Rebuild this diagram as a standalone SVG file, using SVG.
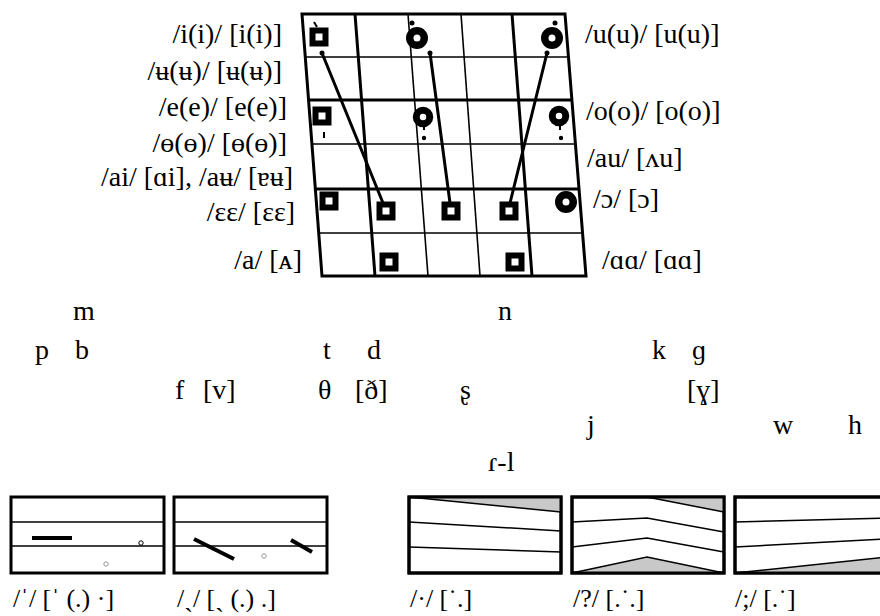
<svg xmlns="http://www.w3.org/2000/svg" width="880" height="616" viewBox="0 0 880 616">
<style>
.t{font-family:"Liberation Serif","DejaVu Serif",serif;fill:#000}
.lb{font-size:28px}
.cs{font-size:28px}
.bt{font-size:26px}
.thick{stroke:#000;stroke-width:3;fill:none}
.thin{stroke:#000;stroke-width:1.6;fill:none}
.conn{stroke:#000;stroke-width:3;stroke-linecap:round;fill:none}
.box{stroke:#000;stroke-width:3;fill:#fff}
.bl{stroke:#000;stroke-width:1.5;fill:none}
.grey{fill:#c8c8c8;stroke:none}
</style>
<defs>
<rect id="sq" x="-6.5" y="-6.5" width="13" height="13" fill="#fff" stroke="#000" stroke-width="6"/>
<circle id="ring" r="7.25" fill="#fff" stroke="#000" stroke-width="7.5"/>
<circle id="ring2" r="6.75" fill="#fff" stroke="#000" stroke-width="7"/>
</defs>
<rect width="880" height="616" fill="#fff"/>

<g id="vowel-chart">
<line class="thin" x1="305.3" y1="57" x2="568.5" y2="57"/>
<line class="thick" x1="308.6" y1="100" x2="571.9" y2="100"/>
<line class="thin" x1="312" y1="144" x2="575.5" y2="144"/>
<line class="thick" x1="315.4" y1="189" x2="579.1" y2="189"/>
<line class="thin" x1="318.7" y1="233" x2="582.6" y2="233"/>
<line class="thick" x1="355" y1="14" x2="375" y2="276"/>
<line class="thin" x1="408" y1="14" x2="428" y2="276"/>
<line class="thin" x1="461" y1="14" x2="480" y2="276"/>
<line class="thick" x1="512" y1="14" x2="532" y2="276"/>
<polygon class="thick" points="302,14 565,14 586,276 322,276"/>
</g>

<g id="connectors">
<line class="conn" x1="322" y1="53" x2="383" y2="203"/>
<line class="conn" x1="430" y1="53" x2="450" y2="203"/>
<line class="conn" x1="547" y1="53" x2="510" y2="203"/>
<circle cx="322" cy="53" r="2.5"/>
<circle cx="430" cy="53" r="2.5"/>
<circle cx="547" cy="53" r="2.5"/>
</g>

<g id="v-i"><use href="#sq" x="319" y="37"/><line x1="314" y1="22" x2="317" y2="27" stroke="#000" stroke-width="2"/></g>
<g id="v-e"><use href="#sq" x="322" y="116"/><line x1="324" y1="132" x2="324" y2="138" stroke="#000" stroke-width="2"/></g>
<g id="v-u-mid"><use href="#ring" x="417" y="38"/><circle cx="412" cy="23" r="2.5"/></g>
<g id="v-u"><use href="#ring" x="552" y="38"/><circle cx="555" cy="23" r="2.5"/></g>
<g id="v-o-mid"><use href="#ring2" x="423" y="117"/><line x1="424" y1="126" x2="424" y2="130" stroke="#000" stroke-width="2"/><circle cx="424" cy="138" r="2.2"/></g>
<g id="v-o"><use href="#ring2" x="559" y="116"/><line x1="560" y1="125" x2="560" y2="130" stroke="#000" stroke-width="2"/><circle cx="561" cy="138" r="2.2"/></g>
<g id="v-ee"><use href="#sq" x="329" y="201"/></g>
<g id="v-ai1"><use href="#sq" x="386" y="211"/></g>
<g id="v-ai2"><use href="#sq" x="451" y="211"/></g>
<g id="v-au"><use href="#sq" x="509" y="211"/></g>
<g id="v-oo"><use href="#ring" x="566" y="202"/></g>
<g id="v-a"><use href="#sq" x="389" y="262"/></g>
<g id="v-aa"><use href="#sq" x="515" y="262"/></g>

<g id="labels-left" class="t lb" text-anchor="end">
<text x="282" y="43">/i(i)/ [i(i)]</text>
<text x="282" y="80">/ʉ(ʉ)/ [ʉ(ʉ)]</text>
<text x="287" y="116">/e(e)/ [e(e)]</text>
<text x="287" y="152">/ɵ(ɵ)/ [ɵ(ɵ)]</text>
<text x="293" y="186">/ai/ [ɑi], /aʉ/ [ɐʉ]</text>
<text x="295" y="221">/ɛɛ/ [ɛɛ]</text>
<text x="302" y="269">/a/ [ᴀ]</text>
</g>
<g id="labels-right" class="t lb">
<text x="585" y="43">/u(u)/ [u(u)]</text>
<text x="586" y="120">/o(o)/ [o(o)]</text>
<text x="587" y="167">/au/ [ʌu]</text>
<text x="593" y="208">/ɔ/ [ɔ]</text>
<text x="602" y="269">/ɑɑ/ [ɑɑ]</text>
</g>

<g id="consonants" class="t cs">
<text x="73" y="320">m</text>
<text x="498" y="320">n</text>
<text x="35" y="359">p</text>
<text x="75" y="359">b</text>
<text x="323" y="359">t</text>
<text x="367" y="359">d</text>
<text x="652" y="359">k</text>
<text x="692" y="359">ɡ</text>
<text x="175" y="399">f</text>
<text x="203" y="399">[v]</text>
<text x="318" y="399">θ</text>
<text x="355" y="399">[ð]</text>
<text x="460" y="399">ʂ</text>
<text x="687" y="399">[ɣ]</text>
<text x="587" y="434">j</text>
<text x="773" y="434">w</text>
<text x="848" y="434">h</text>
<text x="488" y="471">ɾ-l</text>
</g>

<g id="pitch-1">
<rect class="box" x="11" y="497" width="153" height="76"/>
<line class="bl" x1="11" y1="522" x2="164" y2="522"/>
<line class="bl" x1="11" y1="546" x2="164" y2="546"/>
<line x1="32" y1="538" x2="72" y2="538" stroke="#000" stroke-width="4"/>
<circle cx="141" cy="543" r="2.2" fill="none" stroke="#000" stroke-width="1"/>
<circle cx="106" cy="564" r="2.2" fill="none" stroke="#999" stroke-width="1"/>
<text class="t bt" x="13" y="607">/ˈ/ [ˈ (.) ·]</text>
</g>
<g id="pitch-2">
<rect class="box" x="174" y="497" width="153" height="76"/>
<line class="bl" x1="174" y1="522" x2="327" y2="522"/>
<line class="bl" x1="174" y1="546" x2="327" y2="546"/>
<line x1="194" y1="539" x2="234" y2="559" stroke="#000" stroke-width="4"/>
<line x1="291" y1="540" x2="312" y2="552" stroke="#000" stroke-width="4"/>
<circle cx="264" cy="556" r="2.2" fill="none" stroke="#999" stroke-width="1"/>
<text class="t bt" x="177" y="607">/ˎ/ [ˎ (.) .]</text>
</g>
<g id="pitch-3">
<rect class="box" x="409" y="497" width="152" height="76"/>
<polygon class="grey" points="409,497 561,497 561,512"/>
<line class="bl" x1="409" y1="497" x2="561" y2="512"/>
<line class="bl" x1="409" y1="522" x2="561" y2="531"/>
<line class="bl" x1="409" y1="547" x2="561" y2="552"/>
<rect x="409" y="497" width="152" height="76" fill="none" stroke="#000" stroke-width="3"/>
<text class="t bt" x="410" y="607">/·/ [˙.]</text>
</g>
<g id="pitch-4">
<rect class="box" x="572" y="497" width="152" height="76"/>
<polygon class="grey" points="647,497 724,497 724,512"/>
<polygon class="grey" points="572,573 647,557 724,573"/>
<polyline class="bl" points="647,497 724,512"/>
<polyline class="bl" points="572,522 647,518 724,532"/>
<polyline class="bl" points="572,547 647,538 724,552"/>
<polyline class="bl" points="572,573 647,557 724,573"/>
<rect x="572" y="497" width="152" height="76" fill="none" stroke="#000" stroke-width="3"/>
<text class="t bt" x="573" y="607">/?/ [.˙.]</text>
</g>
<g id="pitch-5">
<rect class="box" x="735" y="497" width="152" height="76"/>
<polygon class="grey" points="735,573 887,557 887,573"/>
<line class="bl" x1="735" y1="522" x2="887" y2="518"/>
<line class="bl" x1="735" y1="547" x2="887" y2="539"/>
<line class="bl" x1="735" y1="573" x2="887" y2="557"/>
<rect x="735" y="497" width="152" height="76" fill="none" stroke="#000" stroke-width="3"/>
<text class="t bt" x="735" y="607">/;/ [.˙]</text>
</g>
</svg>
